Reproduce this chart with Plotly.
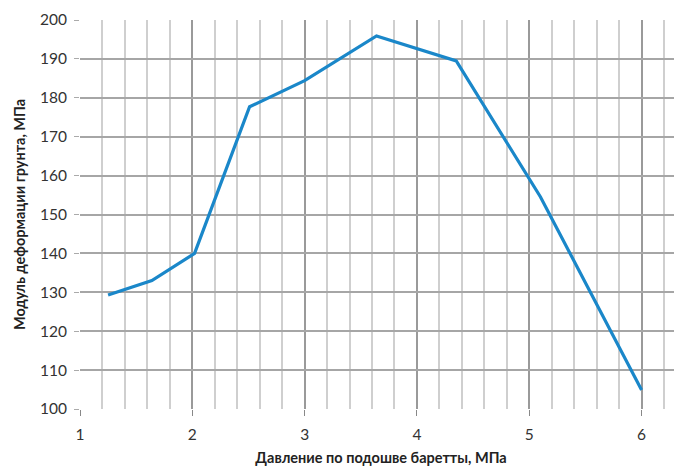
import plotly.graph_objects as go

pressure = [1.25, 1.64, 2.02, 2.51, 3.0, 3.64, 4.35, 5.1, 6.0]
modulus = [129.3, 133.0, 140.0, 177.7, 184.4, 195.9, 189.5, 154.5, 104.9]

x_title = "Давление по подошве баретты, МПа"
y_title = "Модуль деформации грунта, МПа"

fig = go.Figure()
fig.add_trace(go.Scatter(x=pressure, y=modulus, mode="lines",
                         line=dict(color="#1a87c9", width=3.2), showlegend=False))

tickfont = dict(family="Lato, Calibri, sans-serif", size=15.5, color="#333333")
titlefont = dict(family="Lato, Calibri, sans-serif", size=14.5, color="#222222", weight="bold")

fig.update_layout(
    width=674, height=458,
    margin=dict(l=72, r=0, t=12, b=57),
    plot_bgcolor="white", paper_bgcolor="white",
    xaxis=dict(range=[1, 6.36], dtick=1, tick0=1, showgrid=True, gridcolor="#9a9a9a", gridwidth=1.5,
               minor=dict(dtick=0.2, tick0=1, showgrid=True, gridcolor="#cfcfcf", gridwidth=1.5),
               ticks="outside", ticklen=6, tickcolor="#888888", tickfont=tickfont,
               ticklabelstandoff=5,
               zeroline=False, showline=False, automargin=False,
               title=dict(text=x_title, font=titlefont, standoff=12)),
    yaxis=dict(range=[100, 200], dtick=10, showgrid=True, gridcolor="#a6a6a6", gridwidth=1.5,
               ticks="outside", ticklen=5, tickcolor="#aaaaaa", tickfont=tickfont,
               ticklabelstandoff=4,
               zeroline=False, showline=False, automargin=False,
               title=dict(text=y_title, font=titlefont, standoff=10)),
)

fig.write_html("out.html")
